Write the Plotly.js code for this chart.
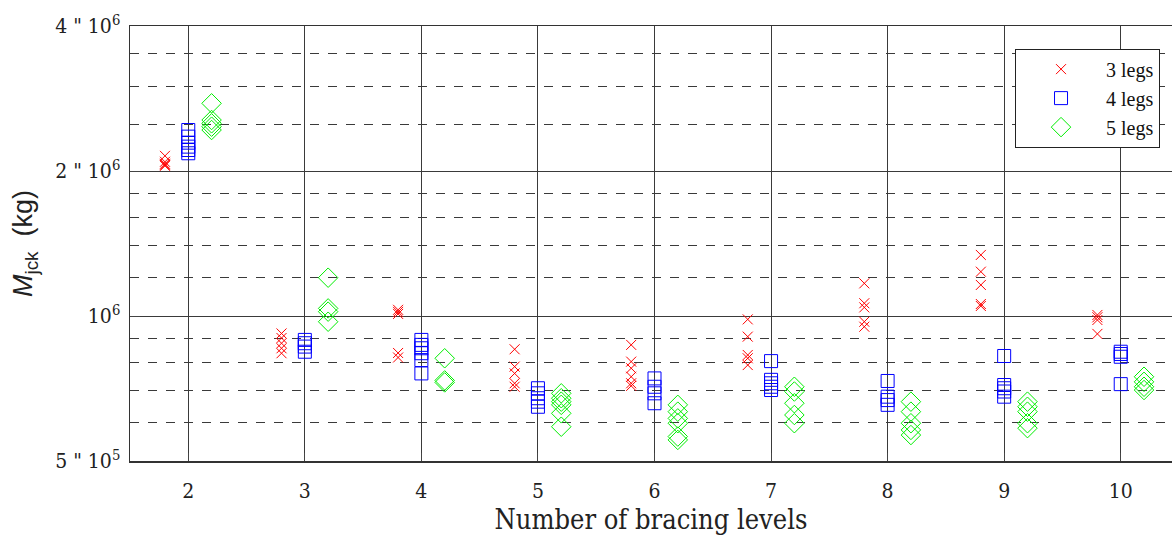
<!DOCTYPE html>
<html>
<head>
<meta charset="utf-8">
<script src="https://cdn.plot.ly/plotly-3.0.1.min.js"></script>
<style>html,body{margin:0;padding:0;background:#fff;}#chart{width:1172px;height:535px;}</style>
</head>
<body>
<div id="chart"></div>
<script>
// Data (values in kg)
const categories = [2, 3, 4, 5, 6, 7, 8, 9, 10];
const seriesNames = ["3 legs", "4 legs", "5 legs"];
const legs3 = [
  [2.15e6, 2.09e6, 2.07e6, 2.06e6, 2.05e6],
  [0.92e6, 0.90e6, 0.878e6, 0.857e6, 0.837e6],
  [1.03e6, 1.02e6, 1.01e6, 0.838e6, 0.82e6],
  [0.853e6, 0.785e6, 0.76e6, 0.725e6, 0.713e6],
  [0.871e6, 0.804e6, 0.779e6, 0.748e6, 0.725e6, 0.716e6],
  [0.984e6, 0.906e6, 0.83e6, 0.817e6, 0.791e6],
  [1.169e6, 1.063e6, 1.042e6, 0.973e6, 0.95e6],
  [1.339e6, 1.236e6, 1.16e6, 1.059e6, 1.049e6],
  [1.005e6, 0.994e6, 0.981e6, 0.918e6]
];
const legs4 = [
  [2.433e6, 2.357e6, 2.29e6, 2.247e6, 2.211e6, 2.177e6],
  [0.892e6, 0.878e6, 0.864e6, 0.843e6],
  [0.892e6, 0.871e6, 0.857e6, 0.837e6, 0.81e6, 0.76e6],
  [0.708e6, 0.691e6, 0.675e6, 0.664e6, 0.648e6],
  [0.742e6, 0.713e6, 0.691e6, 0.659e6],
  [0.806e6, 0.737e6, 0.725e6, 0.713e6, 0.702e6],
  [0.733e6, 0.68e6, 0.669e6, 0.654e6],
  [0.826e6, 0.719e6, 0.708e6, 0.697e6, 0.68e6],
  [0.843e6, 0.834e6, 0.823e6, 0.722e6]
];
const legs5 = [
  [2.764e6, 2.552e6, 2.512e6, 2.472e6, 2.433e6],
  [1.201e6, 1.037e6, 1.021e6, 0.973e6],
  [0.817e6, 0.735e6, 0.728e6],
  [0.691e6, 0.675e6, 0.664e6, 0.654e6, 0.628e6, 0.589e6],
  [0.654e6, 0.633e6, 0.613e6, 0.599e6, 0.562e6, 0.553e6],
  [0.713e6, 0.697e6, 0.659e6, 0.623e6, 0.599e6],
  [0.664e6, 0.633e6, 0.599e6, 0.58e6, 0.566e6],
  [0.664e6, 0.648e6, 0.633e6, 0.599e6, 0.585e6],
  [0.748e6, 0.73e6, 0.713e6, 0.702e6]
];
const yTickVals = [5e5, 1e6, 2e6, 4e6];
const yTickText = ['5 " 10<sup>5</sup>', '10<sup>6</sup>', '2 " 10<sup>6</sup>', '4 " 10<sup>6</sup>'];
const yMinorVals = [6e5, 7e5, 8e5, 9e5, 1.2e6, 1.4e6, 1.6e6, 1.8e6, 2.5e6, 3e6, 3.5e6];

function flatten(groups, offset) {
  const xs = [], ys = [];
  groups.forEach((vals, i) => {
    vals.forEach(v => { xs.push(categories[i] + offset); ys.push(v); });
  });
  return {x: xs, y: ys};
}

const styles = [
  {offset: -0.2, symbol: 'x-thin-open', size: 10, color: '#ff0000'},
  {offset: 0, symbol: 'square-open', size: 13, color: '#0000ff'},
  {offset: 0.2, symbol: 'diamond-open', size: 15, color: '#00ee00'}
];
const allSeries = [legs3, legs4, legs5];

const traces = allSeries.map((s, k) => {
  const d = flatten(s, styles[k].offset);
  return {
    type: 'scatter', mode: 'markers', name: seriesNames[k],
    x: d.x, y: d.y,
    marker: {symbol: styles[k].symbol, size: styles[k].size, color: styles[k].color,
             line: {color: styles[k].color, width: 1}}
  };
});

const serif = '"DejaVu Serif Condensed", "Liberation Serif", serif';
const layout = {
  width: 1172, height: 535,
  margin: {l: 130, r: 0, t: 26, b: 74},
  paper_bgcolor: '#fff', plot_bgcolor: '#fff',
  showlegend: true,
  legend: {
    x: 0.9885, xanchor: 'right', y: 0.948, yanchor: 'top',
    bgcolor: '#fff', bordercolor: '#222', borderwidth: 1,
    font: {family: '"Liberation Serif", serif', size: 20, color: '#111'},
    itemwidth: 80
  },
  xaxis: {
    range: [1.5, 10.44], tickvals: categories, ticktext: categories.map(String),
    showgrid: true, gridcolor: '#3a3a3a', gridwidth: 1,
    showline: true, linecolor: '#333', linewidth: 1.5, mirror: true,
    ticks: 'inside', ticklen: 8, tickcolor: '#444',
    ticklabelstandoff: 10,
    zeroline: false,
    tickfont: {family: serif, size: 21, color: '#222'},
    title: {text: 'Number of bracing levels', font: {family: serif, size: 27, color: '#222'}, standoff: 10}
  },
  yaxis: {
    type: 'log', range: [Math.log10(5e5), Math.log10(4e6)],
    tickmode: 'array', tickvals: yTickVals, ticktext: yTickText,
    showgrid: true, gridcolor: '#3a3a3a', gridwidth: 1,
    showline: true, linecolor: '#333', linewidth: 1.5, mirror: false,
    ticks: 'inside', ticklen: 10, tickcolor: '#444',
    ticklabelstandoff: 4,
    zeroline: false,
    tickfont: {family: serif, size: 21, color: '#222'},
    minor: {tickmode: 'array', tickvals: yMinorVals, showgrid: true, griddash: 'dash',
            gridcolor: '#3a3a3a', gridwidth: 1, ticks: ''},
    title: {text: '<i>M</i><sub>jck</sub>  (kg)', font: {family: '"Liberation Sans", Arial, sans-serif', size: 27, color: '#222'}, standoff: 14}
  }
};

Plotly.newPlot('chart', traces, layout, {staticPlot: true, displayModeBar: false});
</script>
</body>
</html>
